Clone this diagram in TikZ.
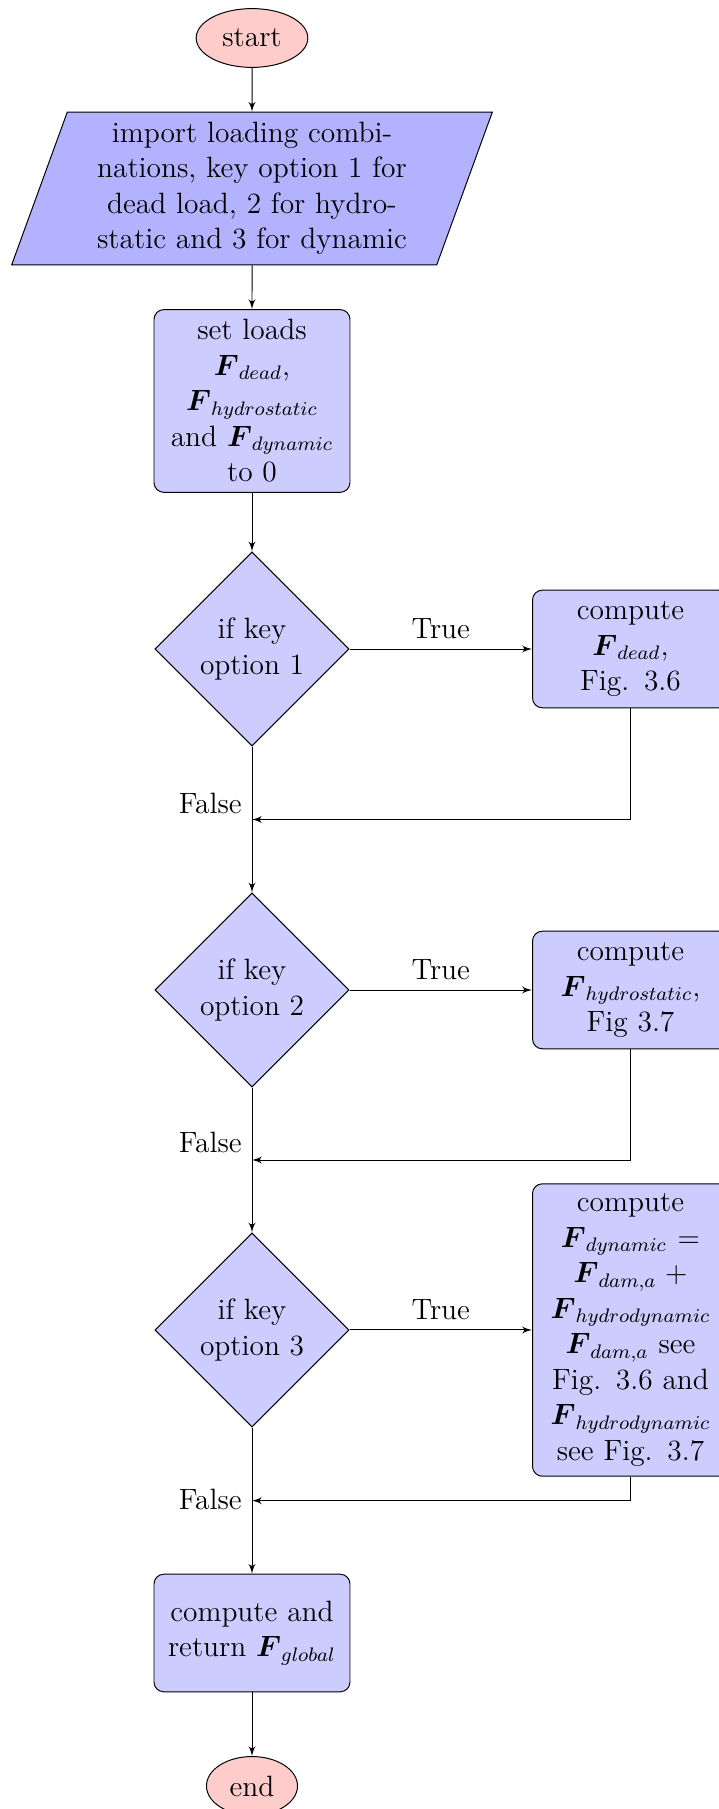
\documentclass[12pt,tikz,border=0pt]{standalone}
\usepackage{amsmath}
\usetikzlibrary{shapes.geometric}
\usetikzlibrary{arrows}
\usetikzlibrary{calc}

\begin{document}
\begin{tikzpicture}[
    block/.style={rectangle,draw,fill=blue!20,text width=6em,align=center,%
      rounded corners,minimum height=4em},
    decision/.style={diamond,draw,fill=blue!20,text width=4.5em,%
      align=flush center,inner sep=0pt},
    cloud/.style={ellipse,draw,fill=red!20,minimum height=2em},
    io/.style={trapezium,trapezium left angle=70,trapezium right angle=110,%
      draw,fill=blue!30,text width=5.02cm,align=center},
    line/.style={draw,-latex'}]

      % 図の範囲(右側の箱ははみ出す分を切る)
      \useasboundingbox (-3.615,0) rectangle (6.699,-25.951);

      \node[cloud] (start) at (0,-0.545){start};
      \node[io] (import) at (0,-2.704){%
        import loading combinations, key option 1 for dead load,
        2 for hydrostatic and 3 for dynamic};
      \node[block] (init) at (0,-5.752){%
        set loads $\boldsymbol{F}_{dead}$, $\boldsymbol{F}_{hydrostatic}$
        and $\boldsymbol{F}_{dynamic}$ to 0};

      % 分岐
      \node[decision] (dec1) at (0,-9.310){if key option 1};
      \node[decision] (dec2) at (0,-14.202){if key option 2};
      \node[decision] (dec3) at (0,-19.079){if key option 3};

      \node[block] (comp1) at (5.430,-9.310){%
        compute $\boldsymbol{F}_{dead}$, Fig. 3.6};
      \node[block] (comp2) at (5.430,-14.202){%
        compute $\boldsymbol{F}_{hydrostatic}$, Fig 3.7};
      \node[block] (comp3) at (5.430,-19.079){%
        compute $\boldsymbol{F}_{dynamic} = \boldsymbol{F}_{dam,a} +
        \boldsymbol{F}_{hydrodynamic}$ $\boldsymbol{F}_{dam,a}$ see
        Fig. 3.6 and $\boldsymbol{F}_{hydrodynamic}$ see Fig. 3.7};

      \node[block] (global) at (0,-23.426){%
        compute and return $\boldsymbol{F}_{global}$};
      \node[cloud] (end) at (0,-25.620){end};

      % 戻り線の合流点
      \coordinate (ret1) at ($(dec1.south)!0.5!(dec2.north)$);
      \coordinate (ret2) at ($(dec2.south)!0.5!(dec3.north)$);
      \coordinate (ret3) at ($(dec3.south)!0.5!(global.north)$);

      \path[line] (start) -- (import);
      \path[line] (import) -- (init);
      \path[line] (init) -- (dec1);

      \path[line] (dec1) -- node[above]{True} (comp1);
      \path[line] (dec1) -- node[left,pos=0.39]{False} (dec2);
      \path[line] (comp1) |- (ret1);

      \path[line] (dec2) -- node[above]{True} (comp2);
      \path[line] (dec2) -- node[left,pos=0.38]{False} (dec3);
      \path[line] (comp2) |- (ret2);

      \path[line] (dec3) -- node[above]{True} (comp3);
      \path[line] (dec3) -- node[left,pos=0.49]{False} (global);
      \path[line] (comp3) |- (ret3);

      \path[line] (global) -- (end);
    \end{tikzpicture}
\end{document}
